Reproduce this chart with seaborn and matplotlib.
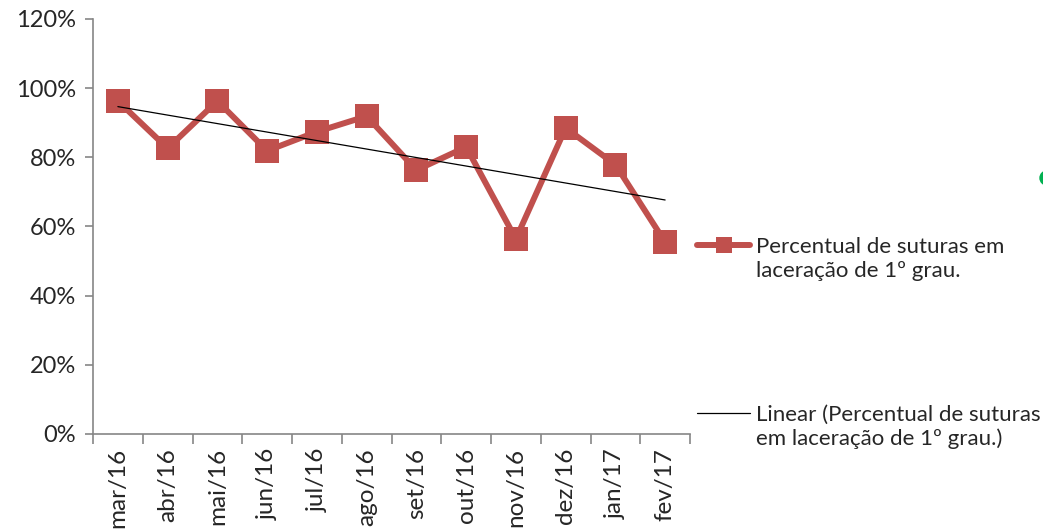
import numpy as np
import pandas as pd
import matplotlib
matplotlib.use("Agg")
import matplotlib.pyplot as plt
import seaborn as sns
from matplotlib.lines import Line2D
from matplotlib.patches import Circle
from matplotlib.legend_handler import HandlerLine2D
from matplotlib.ticker import PercentFormatter, FixedLocator

months = ["mar/16", "abr/16", "mai/16", "jun/16", "jul/16", "ago/16",
          "set/16", "out/16", "nov/16", "dez/16", "jan/17", "fev/17"]
pct = [0.963, 0.826, 0.963, 0.819, 0.874, 0.919,
       0.763, 0.830, 0.564, 0.885, 0.779, 0.555]
series_label = "Percentual de suturas em\nlaceração de 1º grau."
trend_label = "Linear (Percentual de suturas\nem laceração de 1º grau.)"

sns.set_style("white")
plt.rcParams['font.family'] = ['Lato', 'DejaVu Sans']
txt_color = "#262626"
axis_color = "#868686"
red = "#C0504D"

df = pd.DataFrame({"x": np.arange(len(months)), "month": months, "pct": pct})

fig = plt.figure(figsize=(10.43, 5.31), dpi=100)
ax = fig.add_axes([93/1043, 1-434/531, (690-93)/1043, (434-19)/531])

sns.lineplot(data=df, x="x", y="pct", ax=ax, color=red, linewidth=4.3,
             marker="s", markersize=17, markeredgewidth=0, markeredgecolor=red)
sns.regplot(data=df, x="x", y="pct", ax=ax, scatter=False, ci=None,
            truncate=True, line_kws={"color": "black", "linewidth": 0.9})

ax.set_xlim(-0.5, len(months) - 0.5)
ax.set_ylim(0, 1.2)
ax.set_yticks(np.arange(0, 1.21, 0.2))
ax.yaxis.set_major_formatter(PercentFormatter(1.0, decimals=0))
ax.set_xticks(df["x"])
ax.set_xticklabels(months, rotation=90)
ax.xaxis.set_minor_locator(FixedLocator(np.arange(-0.5, len(months), 1.0)))
ax.set_xlabel("")
ax.set_ylabel("")

for s in ["top", "right"]:
    ax.spines[s].set_visible(False)
for s in ["left", "bottom"]:
    ax.spines[s].set_color(axis_color)
    ax.spines[s].set_linewidth(1.2)

ax.tick_params(axis="y", which="major", length=6, width=1.2, color=axis_color,
               labelsize=17, labelcolor=txt_color, pad=6, left=True)
ax.tick_params(axis="x", which="major", length=0, labelsize=17.5,
               labelcolor=txt_color, pad=10, bottom=True)
ax.tick_params(axis="x", which="minor", length=7, width=1.2, color=axis_color,
               bottom=True)


class TopLineHandler(HandlerLine2D):
    """Place the legend key level with the first text line."""
    def create_artists(self, legend, orig_handle, xdescent, ydescent,
                       width, height, fontsize, trans):
        return super().create_artists(legend, orig_handle, xdescent,
                                      ydescent - 21.0, width, height,
                                      fontsize, trans)


h1 = Line2D([], [], color=red, linewidth=4.3, marker="s", markersize=11,
            markeredgewidth=0)
h2 = Line2D([], [], color="black", linewidth=0.9)
common = dict(loc="center left", frameon=False, fontsize=16,
              handlelength=2.4, handletextpad=0.25, borderpad=0,
              borderaxespad=0, labelcolor=txt_color)
leg1 = fig.legend([h1], [series_label],
                  bbox_to_anchor=(697/1043, 1-259/531),
                  handler_map={h1: TopLineHandler()}, **common)
leg2 = fig.legend([h2], [trend_label],
                  bbox_to_anchor=(697/1043, 1-427/531),
                  handler_map={h2: TopLineHandler()}, **common)

fig.patches.append(Circle((1047, 531-178), 7, transform=None,
                          color="#00B050", clip_on=False))

fig.savefig("out.png", dpi=100, facecolor="white")
